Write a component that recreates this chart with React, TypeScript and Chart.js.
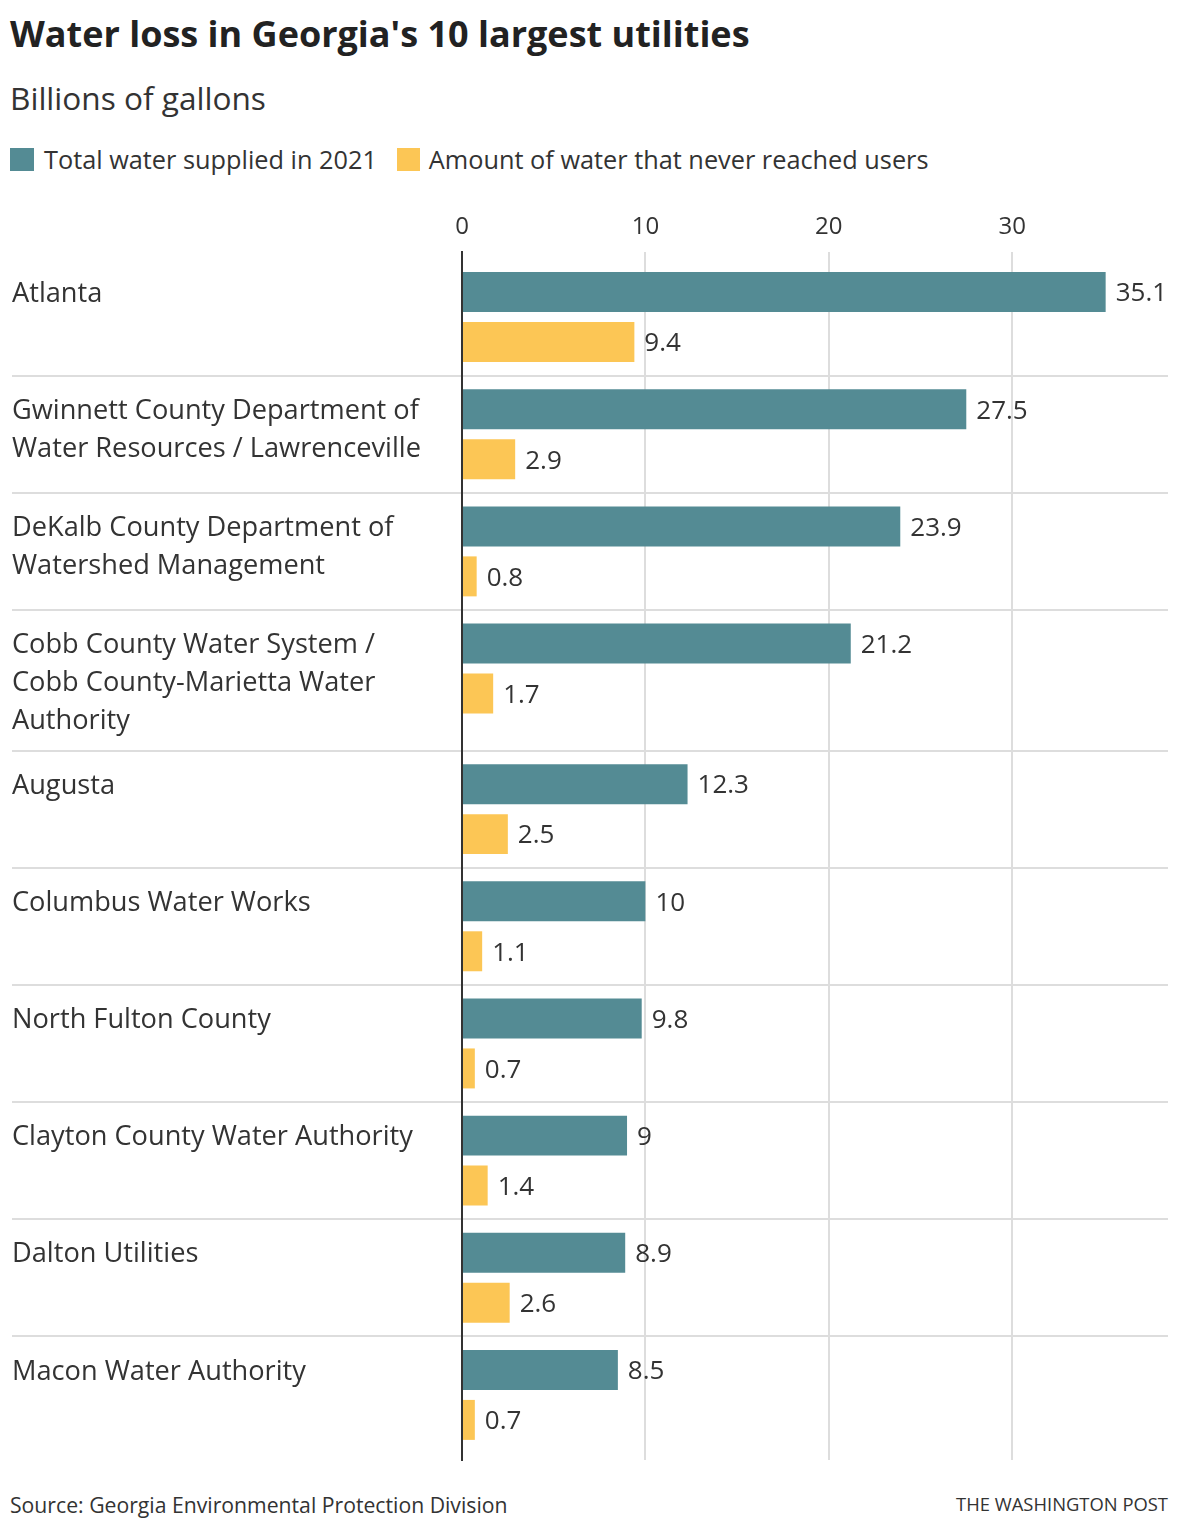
import React, { useEffect, useRef } from 'react';
import { Chart, CategoryScale, registerables } from 'chart.js';

// ---------- data ----------
const categories: (string | string[])[] = [
  'Atlanta',
  ['Gwinnett County Department of', 'Water Resources / Lawrenceville'],
  ['DeKalb County Department of', 'Watershed Management'],
  ['Cobb County Water System /', 'Cobb County-Marietta Water', 'Authority'],
  'Augusta',
  'Columbus Water Works',
  'North Fulton County',
  'Clayton County Water Authority',
  'Dalton Utilities',
  'Macon Water Authority',
];
const supplied = [35.1, 27.5, 23.9, 21.2, 12.3, 10, 9.8, 9, 8.9, 8.5];
const lost = [9.4, 2.9, 0.8, 1.7, 2.5, 1.1, 0.7, 1.4, 2.6, 0.7];
const xTicks = [0, 10, 20, 30];
const seriesNames = ['Total water supplied in 2021', 'Amount of water that never reached users'];
const seriesColors = ['#548b94', '#fcc655'];

const FONT = "'Open Sans', sans-serif";
const TEXT = '#333333';

// Category scale whose rows grow with the number of label lines
class RowCategoryScale extends CategoryScale {
  static id = 'rowCategory';
  static defaults = {};
  rowLayout() {
    const labels = (this as any).getLabels() as any[];
    const opts = (this as any).options;
    const extra = opts.extraLineWeight ?? 0.2;
    const inset = opts.rowInset ?? 0;
    const cum = [0];
    labels.forEach((l, i) => {
      const n = Array.isArray(l) ? l.length : 1;
      cum.push(cum[i] + 1 + Math.max(0, n - 2) * extra);
    });
    const total = cum[cum.length - 1] || 1;
    const self = this as any;
    const unit = (self.bottom - self.top - 2 * inset) / total;
    return { cum, unit, inset };
  }
  getPixelForValue(value: any) {
    if (typeof value !== 'number') value = (this as any).parse(value);
    if (value === null || value === undefined || Number.isNaN(value)) return NaN;
    const { cum, unit, inset } = this.rowLayout();
    return (this as any).top + inset + (cum[value] + 0.5) * unit;
  }
  getRowBoundary(i: number) {
    const { cum, unit, inset } = this.rowLayout();
    return (this as any).top + inset + cum[i] * unit;
  }
  getValueForPixel(pixel: number) {
    const { cum, unit, inset } = this.rowLayout();
    const v = (pixel - (this as any).top - inset) / unit;
    for (let i = 0; i < cum.length - 1; i++) if (v < cum[i + 1]) return i;
    return cum.length - 2;
  }
}

Chart.register(...registerables, RowCategoryScale as any);

const LABEL_SIZE = 27.2;
const LABEL_LINE = 38;
const VALUE_SIZE = 26;

const rowPlugin = {
  id: 'rowDecor',
  beforeDatasetsDraw(chart: any) {
    const y = chart.scales.y;
    const ctx = chart.ctx;
    ctx.save();
    ctx.strokeStyle = '#dddddd';
    ctx.lineWidth = 2;
    for (let i = 1; i < categories.length; i++) {
      const py = Math.round(y.getRowBoundary(i));
      ctx.beginPath();
      ctx.moveTo(12, py);
      ctx.lineTo(chart.chartArea.right, py);
      ctx.stroke();
    }
    ctx.restore();
  },
  afterDatasetsDraw(chart: any) {
    const ctx = chart.ctx;
    ctx.save();
    ctx.fillStyle = TEXT;
    ctx.textAlign = 'left';
    ctx.textBaseline = 'alphabetic';
    ctx.font = `${LABEL_SIZE}px ${FONT}`;
    const meta0 = chart.getDatasetMeta(0);
    categories.forEach((lab, i) => {
      const lines = Array.isArray(lab) ? lab : [lab];
      const el = meta0.data[i];
      lines.forEach((ln, j) => {
        ctx.fillText(ln, 12, el.y + 0.357 * LABEL_SIZE + j * LABEL_LINE);
      });
    });
    ctx.font = `${VALUE_SIZE}px ${FONT}`;
    chart.data.datasets.forEach((ds: any, di: number) => {
      const meta = chart.getDatasetMeta(di);
      meta.data.forEach((el: any, i: number) => {
        ctx.fillText(String(ds.data[i]), el.x + 10, el.y + 0.357 * VALUE_SIZE);
      });
    });
    ctx.restore();
  },
};

export default function App() {
  const ref = useRef<HTMLCanvasElement>(null);
  useEffect(() => {
    if (!ref.current) return;
    Chart.defaults.font.family = FONT;
    Chart.defaults.color = TEXT;
    const chart = new Chart(ref.current, {
      type: 'bar',
      data: {
        labels: categories as any,
        datasets: [
          { label: seriesNames[0], data: supplied, backgroundColor: seriesColors[0] },
          { label: seriesNames[1], data: lost, backgroundColor: seriesColors[1] },
        ],
      },
      options: {
        indexAxis: 'y',
        responsive: false,
        animation: false,
        events: [],
        layout: { padding: { top: 13.2, right: 12, bottom: 20, left: 0 } },
        datasets: { bar: { categoryPercentage: 0.853, barPercentage: 0.8, maxBarThickness: 40 } },
        plugins: { legend: { display: false }, tooltip: { enabled: false } },
        scales: {
          x: {
            type: 'linear',
            position: 'top',
            min: 0,
            max: 38.5,
            afterBuildTicks: (s: any) => {
              s.ticks = xTicks.map((v) => ({ value: v }));
            },
            grid: { color: '#dddddd', lineWidth: 2, drawTicks: false },
            border: { display: false },
            ticks: { padding: 10, color: TEXT, font: { family: FONT, size: 24 } },
          },
          y: {
            type: 'rowCategory' as any,
            rowInset: 6.5,
            grid: { display: false },
            border: { display: true, color: '#333333', width: 2, z: 1 },
            ticks: { display: false },
            afterFit: (s: any) => {
              s.width = 462;
            },
          } as any,
        },
      },
      plugins: [rowPlugin],
    });
    return () => chart.destroy();
  }, []);

  const abs: React.CSSProperties = { position: 'absolute', whiteSpace: 'nowrap', fontFamily: FONT, color: TEXT };
  return (
    <div style={{ position: 'absolute', left: 0, top: 0, width: 1180, height: 1530, overflow: 'hidden', background: '#fff' }}>
      <div style={{ ...abs, left: 10, top: 15.6, fontSize: 36, lineHeight: '36px', fontWeight: 700, color: '#222' }}>
        Water loss in Georgia's 10 largest utilities
      </div>
      <div style={{ ...abs, left: 10, top: 82, fontSize: 31.6, lineHeight: '31.6px' }}>Billions of gallons</div>
      <div style={{ ...abs, left: 10, top: 148, height: 23, display: 'flex', alignItems: 'center', fontSize: 25.3, lineHeight: '25.3px' }}>
        <span style={{ width: 24, height: 23, background: seriesColors[0], display: 'inline-block' }} />
        <span style={{ marginLeft: 10 }}>{seriesNames[0]}</span>
        <span style={{ width: 23, height: 23, background: seriesColors[1], display: 'inline-block', marginLeft: 20 }} />
        <span style={{ marginLeft: 9 }}>{seriesNames[1]}</span>
      </div>
      <canvas ref={ref} width={1180} height={1290} style={{ position: 'absolute', left: 0, top: 190, width: 1180, height: 1290 }} />
      <div style={{ ...abs, left: 10, top: 1494, fontSize: 21.2, lineHeight: '21.2px' }}>
        Source: Georgia Environmental Protection Division
      </div>
      <div style={{ ...abs, right: 12, top: 1495, fontSize: 18.4, lineHeight: '18.4px' }}>THE WASHINGTON POST</div>
    </div>
  );
}
